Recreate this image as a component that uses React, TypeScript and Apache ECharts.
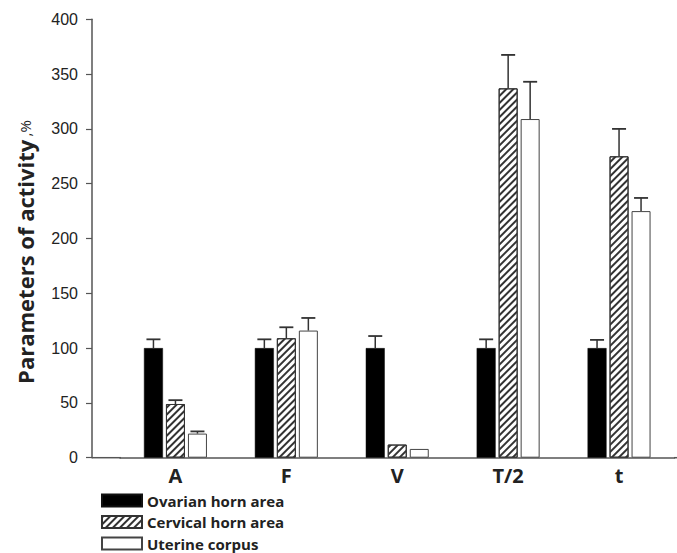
import React, { useEffect, useRef } from "react";
import * as echarts from "echarts";

const categories = ["A", "F", "V", "T/2", "t"];
const seriesNames = ["Ovarian horn area", "Cervical horn area", "Uterine corpus"];
const ovarian = [100, 100, 100, 100, 100];
const ovarianErr = [108, 108, 111, 108, 107.5];
const cervical = [49, 109, 12, 337, 275];
const cervicalErr = [52.5, 119, 12, 367.5, 300];
const uterine = [22, 116, 8, 309, 225];
const uterineErr = [24, 127.5, 8, 343, 237];
const yTicks = { min: 0, max: 400, interval: 50 };
const yTitle = "Parameters of activity";
const yUnit = ",%";

const BAR_W = 19;
const GAP = 3;

export default function App() {
  const ref = useRef<HTMLDivElement>(null);
  useEffect(() => {
    if (!ref.current) return;
    const chart = echarts.init(ref.current, null, { renderer: "svg" });
    const axisColor = "#555";
    const hatch = {
      symbol: "rect",
      symbolSize: 1,
      color: "#333",
      dashArrayX: [1, 0],
      dashArrayY: [1.7, 2.5],
      rotation: -Math.PI / 4,
    };
    const errSeries = (vals: number[], tops: number[], k: number) => ({
      type: "custom",
      silent: true,
      z: 5,
      data: vals.map((v, i) => [i, v, tops[i]]),
      renderItem: (params: any, api: any) => {
        const c = api.value(0);
        const p0 = api.coord([c, api.value(1)]);
        const p1 = api.coord([c, api.value(2)]);
        const x = p0[0] + (k - 1) * (BAR_W + GAP);
        if (Math.abs(p0[1] - p1[1]) < 0.5) return { type: "group", children: [] };
        return {
          type: "group",
          children: [
            { type: "line", shape: { x1: x, y1: p0[1], x2: x, y2: p1[1] }, style: { stroke: "#333", lineWidth: 1.5 } },
            { type: "line", shape: { x1: x - 7, y1: p1[1], x2: x + 7, y2: p1[1] }, style: { stroke: "#333", lineWidth: 1.8 } },
          ],
        };
      },
    });
    chart.setOption({
      animation: false,
      backgroundColor: "#fff",
      grid: { left: 120, right: 2.5, top: 19.3, bottom: 95.3 },
      legend: {
        orient: "vertical",
        left: 101,
        top: 493,
        padding: 0,
        itemWidth: 40,
        itemHeight: 12,
        itemGap: 6.5,
        icon: "rect",
        selectedMode: false,
        textStyle: { fontFamily: "Open Sans", fontWeight: "bold", fontSize: 15, color: "#222", lineHeight: 15 },
        data: seriesNames,
      },
      xAxis: {
        type: "category",
        data: categories,
        axisLine: { lineStyle: { color: axisColor, width: 1.5 } },
        axisTick: { show: false },
        axisLabel: { fontFamily: "Open Sans", fontWeight: "bold", fontSize: 20, color: "#222", margin: 8 },
      },
      yAxis: {
        type: "value",
        min: yTicks.min,
        max: yTicks.max,
        interval: yTicks.interval,
        offset: 28,
        axisLine: { show: true, lineStyle: { color: axisColor, width: 1.5 } },
        axisTick: { show: true, length: 6, lineStyle: { color: axisColor, width: 1.2 } },
        splitLine: { show: false },
        axisLabel: { fontFamily: "Liberation Sans", fontSize: 16, color: "#222", margin: 14 },
      },
      series: [
        {
          name: seriesNames[0],
          type: "bar",
          data: ovarian,
          barWidth: BAR_W,
          barGap: (GAP / BAR_W) * 100 + "%",
          itemStyle: { color: "#000", borderColor: "#111", borderWidth: 0.5 },
        },
        {
          name: seriesNames[1],
          type: "bar",
          data: cervical,
          barWidth: BAR_W,
          barGap: (GAP / BAR_W) * 100 + "%",
          itemStyle: { color: "#fff", borderColor: "#333", borderWidth: 1, decal: hatch },
        },
        {
          name: seriesNames[2],
          type: "bar",
          data: uterine,
          barWidth: BAR_W,
          barGap: (GAP / BAR_W) * 100 + "%",
          itemStyle: { color: "#fff", borderColor: "#444", borderWidth: 1 },
        },
        errSeries(ovarian, ovarianErr, 0),
        errSeries(cervical, cervicalErr, 1),
        errSeries(uterine, uterineErr, 2),
      ],
      graphic: [
        { type: "line", shape: { x1: 92, y1: 457.7, x2: 121, y2: 457.7 }, style: { stroke: axisColor, lineWidth: 1.5 } },
        { type: "line", shape: { x1: 674, y1: 457.7, x2: 677, y2: 457.7 }, style: { stroke: axisColor, lineWidth: 1.5 } },
        {
          type: "text",
          x: 25,
          y: 252,
          rotation: Math.PI / 2,
          style: {
            text: "{b|" + yTitle + "} {s|" + yUnit + "}",
            align: "center",
            verticalAlign: "middle",
            rich: {
              b: { fontFamily: "Open Sans", fontWeight: "bold", fontSize: 22, fill: "#222" },
              s: { fontFamily: "Open Sans", fontSize: 15, fill: "#222" },
            },
          },
        },
      ],
    });
    return () => chart.dispose();
  }, []);
  return <div ref={ref} style={{ position: "fixed", left: 0, top: 0, width: 677, height: 553 }} />;
}
